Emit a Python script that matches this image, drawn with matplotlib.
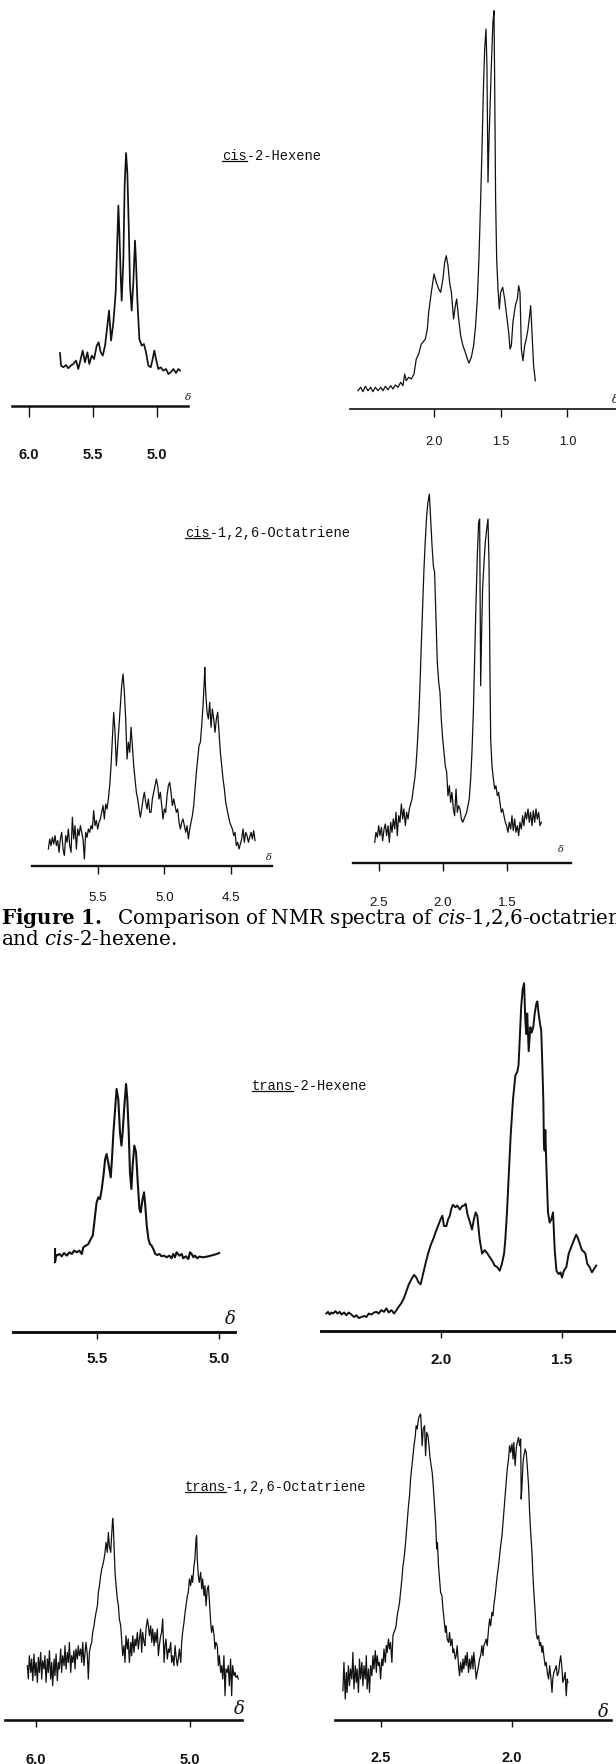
"""
Figure 1 re-drawing: 1H NMR traces of cis/trans 2-hexene and 1,2,6-octatriene.
Each trace is one small axes (x = chemical shift, ppm; y = trace height, arb.).
"""
import matplotlib
matplotlib.use('Agg')
import matplotlib.pyplot as plt
from matplotlib.lines import Line2D

W, H = 616, 1765          # output size, px
INK = '#111111'

plt.rcParams['mathtext.fontset'] = 'custom'
plt.rcParams['mathtext.rm'] = 'DejaVu Serif'
plt.rcParams['mathtext.it'] = 'DejaVu Serif:italic'
plt.rcParams['mathtext.bf'] = 'DejaVu Serif:bold'

# ---------------------------------------------------------------- data
# cis-2-hexene, olefinic region
CIS_HEX_A_PPM = [5.758, 5.750, 5.732, 5.711, 5.693, 5.674, 5.654, 5.633, 5.615, 5.596,
                 5.581, 5.563, 5.544, 5.529, 5.510, 5.492, 5.471, 5.456, 5.440, 5.424,
                 5.406, 5.388, 5.375, 5.359, 5.341, 5.323, 5.310, 5.302, 5.294, 5.284,
                 5.276, 5.263, 5.253, 5.242, 5.232, 5.221, 5.211, 5.198, 5.185, 5.172,
                 5.164, 5.154, 5.138, 5.120, 5.102, 5.086, 5.068, 5.049, 5.034, 5.021,
                 5.008, 4.990, 4.971, 4.951, 4.930, 4.911, 4.893, 4.872, 4.852, 4.833,
                 4.820]
CIS_HEX_A_INT = [53.3, 40.7, 39, 41.3, 38, 40.7, 42.3, 45.7, 37.3, 47.3,
                 55.7, 44, 54, 42.3, 50.7, 47.3, 60.7, 64, 54, 50.7,
                 60.7, 80.7, 95.7, 65.7, 84, 114, 167.3, 200.7, 174, 130.7,
                 105.7, 147.3, 220.7, 253.3, 234, 180.7, 120.7, 95.7, 124, 165.7,
                 144, 107.3, 67.3, 60.7, 62.3, 54, 40.7, 39, 47.3, 55.7,
                 47.3, 37.3, 39, 35.7, 37.3, 32.3, 34, 37.3, 33.3, 37.3,
                 35.7]

# cis-2-hexene, aliphatic region
CIS_HEX_B_PPM = [2.570, 2.550, 2.533, 2.515, 2.495, 2.475, 2.458, 2.440, 2.420, 2.400,
                 2.383, 2.365, 2.345, 2.325, 2.308, 2.290, 2.270, 2.250, 2.233, 2.220,
                 2.208, 2.190, 2.170, 2.150, 2.133, 2.115, 2.095, 2.083, 2.065, 2.050,
                 2.040, 2.020, 2.000, 1.983, 1.965, 1.950, 1.933, 1.920, 1.908, 1.895,
                 1.883, 1.870, 1.853, 1.840, 1.830, 1.815, 1.800, 1.783, 1.765, 1.750,
                 1.738, 1.720, 1.703, 1.688, 1.675, 1.663, 1.650, 1.640, 1.630, 1.620,
                 1.610, 1.603, 1.595, 1.588, 1.580, 1.570, 1.558, 1.550, 1.545, 1.538,
                 1.530, 1.520, 1.510, 1.500, 1.485, 1.470, 1.455, 1.440, 1.430, 1.420,
                 1.408, 1.390, 1.375, 1.365, 1.355, 1.345, 1.333, 1.320, 1.308, 1.295,
                 1.283, 1.275, 1.265, 1.253, 1.240]
CIS_HEX_B_INT = [18.3, 21.7, 17.3, 22.7, 18.3, 21.7, 17.3, 21.7, 18.3, 21.7,
                 18.3, 22.7, 19.3, 23.3, 20, 24, 21.7, 26.7, 23.3, 35,
                 28.3, 31.7, 30, 35, 50, 55, 65, 66.7, 70, 80,
                 96.7, 116.7, 135, 126.7, 120, 116.7, 130, 146.7, 153.3, 143.3,
                 126.7, 116.7, 90, 103.3, 110, 90, 73.3, 63.3, 56.7, 50,
                 46, 51.7, 63.3, 83.3, 110, 150, 210, 260, 316.7, 360,
                 380, 343.3, 226.7, 266.7, 300, 343.3, 386.7, 398.3, 326.7, 210,
                 150, 120, 100, 116.7, 121.7, 110, 93.3, 76.7, 60, 63.3,
                 86.7, 103.3, 110, 123.3, 116.7, 60, 48.3, 63.3, 70, 80,
                 93.3, 103.3, 76.7, 43.3, 28.3]

# cis-1,2,6-octatriene, olefinic region
CIS_OCT_A_PPM = [5.87,
                 5.86, 5.85, 5.84, 5.83, 5.82, 5.81, 5.80, 5.79, 5.78, 5.77,
                 5.76, 5.75, 5.74, 5.73, 5.72, 5.71, 5.70, 5.69, 5.68, 5.67,
                 5.66, 5.65, 5.64, 5.63, 5.62, 5.61, 5.60, 5.59, 5.58, 5.57,
                 5.56, 5.55, 5.54, 5.53, 5.52, 5.51, 5.50, 5.49, 5.48, 5.47,
                 5.46, 5.45, 5.44, 5.43, 5.42, 5.41, 5.40, 5.39, 5.38, 5.37,
                 5.36, 5.35, 5.34, 5.33, 5.32, 5.31, 5.30, 5.29, 5.28, 5.27,
                 5.26, 5.25, 5.24, 5.23, 5.22, 5.21, 5.20, 5.19, 5.18, 5.17,
                 5.16, 5.15, 5.14, 5.13, 5.12, 5.11, 5.10, 5.09, 5.08, 5.07,
                 5.06, 5.05, 5.04, 5.03, 5.02, 5.01, 5.00, 4.99, 4.98, 4.97,
                 4.96, 4.95, 4.94, 4.93, 4.92, 4.91, 4.90, 4.89, 4.88, 4.87,
                 4.86, 4.85, 4.84, 4.83, 4.82, 4.81, 4.80, 4.79, 4.78, 4.77,
                 4.76, 4.75, 4.74, 4.73, 4.72, 4.71, 4.70,
                 4.697, 4.690,
                 4.68, 4.67, 4.66, 4.65, 4.64, 4.63, 4.62, 4.61, 4.60, 4.59,
                 4.58, 4.57, 4.56, 4.55, 4.54, 4.53, 4.52, 4.51, 4.50, 4.49,
                 4.48, 4.47, 4.46, 4.45, 4.44, 4.43, 4.42, 4.41, 4.40, 4.39,
                 4.38, 4.37, 4.36, 4.35, 4.34, 4.33, 4.32]
CIS_OCT_A_INT = [17.3,
                 27.3, 20.7, 29, 22.3, 30.7, 20.7, 25.7, 14, 27.3, 34,
                 17.3, 10.7, 30.7, 24, 37.3, 20.7, 14, 49, 27.3, 40.7,
                 17.3, 37.3, 30.7, 40.7, 34, 27.3, 7.3, 34, 29, 37.3,
                 34, 40.7, 37.3, 55.7, 40.7, 45.7, 37.3, 44, 47.3, 54,
                 60.7, 47.3, 62.3, 57.3, 67.3, 80.7, 100.7, 127.3, 154, 134,
                 100.7, 120.7, 140.7, 160.7, 180.7, 192.3, 174, 147.3, 107.3, 124,
                 114, 139, 120.7, 100.7, 87.3, 74, 67.3, 57.3, 49, 57.3,
                 67.3, 74, 64, 57.3, 67.3, 54, 54, 67.3, 74, 80.7,
                 87.3, 80.7, 67.3, 74, 60.7, 47.3, 57.3, 54, 70.7, 80.7,
                 84, 74, 60.7, 67.3, 60.7, 54, 57.3, 44, 37.3, 44,
                 47.3, 40.7, 34, 40.7, 27.3, 37.3, 44, 50.7, 60.7, 77.3,
                 94, 107.3, 120.7, 124, 140.7, 160.7, 187.3,
                 199, 174,
                 154, 147.3, 164, 139, 157.3, 147.3, 134, 147.3, 154, 134,
                 114, 100.7, 87.3, 77.3, 64, 57.3, 50.7, 44, 40.7, 37.3,
                 30.7, 34, 20.7, 24, 17.3, 22.3, 27.3, 37.3, 24, 34,
                 30.7, 24, 29, 34, 27.3, 35.7, 25.7]

# cis-1,2,6-octatriene, aliphatic region
CIS_OCT_B_PPM = [2.531, 2.521, 2.510, 2.500, 2.490, 2.479, 2.469, 2.458, 2.448, 2.438,
                 2.427, 2.417, 2.406, 2.396, 2.386, 2.375, 2.365, 2.355, 2.344, 2.334,
                 2.323, 2.313, 2.303, 2.292, 2.282, 2.271, 2.261, 2.251, 2.240, 2.230,
                 2.219, 2.209, 2.199, 2.188, 2.178, 2.168, 2.157, 2.147, 2.136, 2.126,
                 2.116, 2.105, 2.095, 2.084, 2.074, 2.064, 2.053, 2.043, 2.032, 2.022,
                 2.012, 2.001, 1.991, 1.981, 1.970, 1.960, 1.949, 1.939, 1.929, 1.918,
                 1.908, 1.897, 1.887, 1.877, 1.866, 1.856, 1.845, 1.835, 1.825, 1.814,
                 1.804, 1.794, 1.783, 1.773, 1.762, 1.752, 1.742, 1.731, 1.721,
                 1.713, 1.705, 1.697, 1.690,
                 1.679, 1.669, 1.658, 1.648,
                 1.640, 1.632, 1.627,
                 1.617, 1.606, 1.596, 1.586, 1.575, 1.565, 1.555, 1.544, 1.534, 1.523,
                 1.513, 1.503, 1.492, 1.482, 1.471, 1.461, 1.451, 1.440, 1.430, 1.419,
                 1.409, 1.399, 1.388, 1.378, 1.368, 1.357, 1.347, 1.336, 1.326, 1.316,
                 1.305, 1.295, 1.284, 1.274, 1.264, 1.253, 1.243, 1.232]
CIS_OCT_B_INT = [20.7, 30.7, 25.7, 37.3, 27.3, 35.7, 22.3, 34, 39, 27.3,
                 37.3, 20.7, 40.7, 30.7, 44, 34, 50.7, 27.3, 47.3, 40.7,
                 59, 44, 54, 37.3, 50.7, 44, 54, 59, 64, 74,
                 84, 97.3, 117.3, 144, 177.3, 217.3, 257.3, 294, 324, 347.3,
                 360.7, 369, 344, 317.3, 297.3, 290.7, 244, 200.7, 180.7, 170.7,
                 144, 124, 110.7, 97.3, 90.7, 67.3, 77.3, 60.7, 70.7, 54,
                 47.3, 74, 50.7, 57.3, 54, 44, 40.7, 44, 47.3, 50.7,
                 57.3, 64, 84, 110.7, 150.7, 204, 257.3, 307.3, 340.7,
                 344, 177.3, 234, 274,
                 300.7, 320.7, 334, 344,
                 300.7, 184, 124,
                 97.3, 84, 74, 77.3, 67.3, 70.7, 60.7, 50.7, 54, 47.3,
                 40.7, 37.3, 30.7, 40.7, 34, 47.3, 32.3, 44, 30.7, 37.3,
                 27.3, 40.7, 34, 47.3, 37.3, 50.7, 44, 54, 40.7, 50.7,
                 37.3, 52.3, 40.7, 54, 44, 50.7, 37.3, 40.7]

# trans-2-hexene, olefinic region
TRANS_HEX_A_PPM = [5.674, 5.674, 5.670, 5.667, 5.656, 5.647, 5.637, 5.626, 5.615, 5.605,
                   5.596, 5.585, 5.574, 5.564, 5.558, 5.547, 5.537, 5.527, 5.519, 5.514,
                   5.508, 5.503, 5.496, 5.489, 5.482, 5.475, 5.468, 5.462, 5.453, 5.445,
                   5.440, 5.434, 5.427, 5.421, 5.414, 5.407, 5.401, 5.396, 5.390, 5.382,
                   5.377, 5.371, 5.366, 5.360, 5.355, 5.348, 5.341, 5.334, 5.327, 5.322,
                   5.314, 5.308, 5.303, 5.297, 5.290, 5.284, 5.277, 5.270, 5.262, 5.253,
                   5.245, 5.236, 5.226, 5.215, 5.204, 5.195, 5.188, 5.181, 5.174, 5.163,
                   5.153, 5.147, 5.136, 5.126, 5.119, 5.112, 5.105, 5.099, 5.089, 5.081,
                   5.064, 5.044, 5.023, 5.010, 4.999]
TRANS_HEX_A_INT = [83.3, 70, 77.3, 76.7, 78.3, 76, 79.3, 76.7, 80, 78.3,
                   81.7, 80, 81.7, 78.3, 85, 86.7, 88.3, 93.3, 96.7, 106.7,
                   120, 130, 135, 133.3, 143.3, 156.7, 173.3, 178.3, 166.7, 155,
                   173.3, 200, 223.3, 243.3, 233.3, 200, 186.7, 200, 223.3, 248.3,
                   233.3, 200, 160, 143.3, 166.7, 186.7, 180, 150, 123.3, 120,
                   133.3, 140, 126.7, 106.7, 93.3, 88.3, 86.7, 83.3, 78.3, 77.3,
                   78.3, 76, 76.7, 75, 76.7, 74, 78.3, 75, 80, 76.7,
                   78.3, 74, 76, 73.3, 80, 78.3, 75, 76.7, 74, 75.7,
                   75, 76, 77.3, 78.3, 79.3]

# trans-2-hexene, aliphatic region
TRANS_HEX_B_PPM = [2.477, 2.470, 2.463, 2.456, 2.449, 2.439, 2.431, 2.421, 2.414, 2.403,
                   2.394, 2.384, 2.373, 2.362, 2.352, 2.343, 2.331, 2.320, 2.311, 2.301,
                   2.290, 2.279, 2.269, 2.260, 2.249, 2.238, 2.228, 2.218, 2.207, 2.196,
                   2.186, 2.177, 2.166, 2.155, 2.145, 2.135, 2.124, 2.113, 2.104, 2.094,
                   2.086, 2.076, 2.066, 2.055, 2.044, 2.035, 2.025, 2.014, 2.003, 1.996,
                   1.989, 1.979, 1.972, 1.965, 1.959, 1.952, 1.942, 1.934, 1.924, 1.914,
                   1.906, 1.899, 1.892, 1.883, 1.873, 1.865, 1.858, 1.851, 1.841, 1.831,
                   1.820, 1.809, 1.800, 1.790, 1.779, 1.768, 1.758, 1.749, 1.740, 1.735,
                   1.728, 1.721, 1.713, 1.703, 1.693, 1.685, 1.680, 1.674, 1.669, 1.663,
                   1.657, 1.652, 1.648, 1.644, 1.638, 1.631, 1.626, 1.619, 1.613, 1.606,
                   1.602, 1.597, 1.591, 1.586, 1.581, 1.577, 1.575, 1.572, 1.569, 1.564,
                   1.558, 1.551, 1.544, 1.537, 1.530, 1.523, 1.514, 1.506, 1.500, 1.492,
                   1.482, 1.472, 1.461, 1.450, 1.441, 1.434, 1.427, 1.417, 1.409, 1.403,
                   1.395, 1.385, 1.376, 1.367, 1.358]
TRANS_HEX_B_INT = [16.7, 18.3, 15.7, 17.7, 16.7, 19, 16.7, 18.3, 15.7, 17.7,
                   15, 17.7, 15.7, 13.3, 15, 12.3, 13.3, 14.3, 13.3, 16.7,
                   15.7, 17.7, 18.3, 16.7, 20, 18.3, 21.7, 17.7, 20, 16.7,
                   20, 23.3, 26.7, 31.7, 38.3, 45, 50, 54.3, 51.7, 46.7,
                   45, 55, 65, 75, 83.3, 88.3, 95, 101.7, 108.3, 111.7,
                   101.7, 101.7, 108.3, 111.7, 118.3, 122.3, 120, 121.7, 117.7, 121,
                   121.7, 123.3, 113.3, 106.7, 98.3, 108.3, 115, 111.7, 88.3, 75,
                   78.3, 75, 71.7, 68.3, 63.3, 61.7, 58.3, 65, 75, 88.3,
                   115, 148.3, 188.3, 225, 248.3, 251.7, 258.3, 288.3, 315, 331.7,
                   337.7, 301.7, 288.3, 308.3, 271.7, 295, 289.7, 295, 308.3, 318.3,
                   320, 308.3, 298.3, 291.7, 255, 221.7, 181.7, 175, 195, 155,
                   115, 105, 108.3, 115, 78.3, 58.3, 55, 56.7, 51.7, 58.3,
                   61.7, 75, 81.7, 88.3, 93.3, 90, 85, 78.3, 76.7, 75,
                   65, 61.7, 56.7, 60, 63.3]

# trans-1,2,6-octatriene, olefinic region
TRANS_OCT_A_PPM = [6.054, 6.048, 6.041, 6.032, 6.026, 6.019, 6.011, 6.004, 5.998, 5.989,
                   5.983, 5.976, 5.968, 5.961, 5.955, 5.946, 5.940, 5.933, 5.924, 5.918,
                   5.911, 5.903, 5.896, 5.890, 5.881, 5.875, 5.868, 5.860, 5.853, 5.847,
                   5.838, 5.832, 5.825, 5.816, 5.810, 5.803, 5.795, 5.788, 5.782, 5.773,
                   5.767, 5.760, 5.752, 5.745, 5.739, 5.730, 5.724, 5.717, 5.708, 5.702,
                   5.695, 5.687, 5.680, 5.674, 5.665, 5.659, 5.652, 5.644, 5.637, 5.631,
                   5.622, 5.616, 5.609, 5.600, 5.594, 5.587, 5.579, 5.572, 5.566, 5.557,
                   5.551, 5.544, 5.536, 5.529, 5.523, 5.514, 5.508, 5.501, 5.497, 5.492,
                   5.486, 5.479, 5.471, 5.464, 5.458, 5.449, 5.443, 5.436, 5.428, 5.421,
                   5.415, 5.406, 5.400, 5.393, 5.384, 5.378, 5.371, 5.363, 5.356, 5.350,
                   5.341, 5.335, 5.328, 5.320, 5.313, 5.307, 5.298, 5.292, 5.285, 5.276,
                   5.270, 5.263, 5.255, 5.248, 5.242, 5.233, 5.227, 5.220, 5.212, 5.205,
                   5.199, 5.190, 5.184, 5.177, 5.168, 5.162, 5.156, 5.147, 5.140, 5.134,
                   5.125, 5.119, 5.112, 5.104, 5.097, 5.091, 5.082, 5.076, 5.069, 5.060,
                   5.054, 5.048, 5.039, 5.032, 5.026, 5.017, 5.011, 5.004, 4.996, 4.989,
                   4.983, 4.974, 4.968, 4.961, 4.957, 4.953, 4.946, 4.940, 4.931, 4.924,
                   4.918, 4.909, 4.903, 4.896, 4.888, 4.881, 4.875, 4.866, 4.860, 4.853,
                   4.844, 4.838, 4.832, 4.823, 4.816, 4.810, 4.801, 4.795, 4.788, 4.780,
                   4.773, 4.767, 4.758, 4.752, 4.745, 4.737, 4.730, 4.724, 4.715, 4.708,
                   4.702, 4.693, 4.687]
TRANS_OCT_A_INT = [54, 40.7, 64, 47.3, 60.7, 39, 65.7, 44, 57.3, 37.3,
                   62.3, 47.3, 67.3, 40.7, 59, 50.7, 64, 37.3, 60.7, 47.3,
                   69, 40.7, 57.3, 34, 60.7, 44, 65.7, 39, 57.3, 50.7,
                   70.7, 47.3, 64, 54, 74, 50.7, 67.3, 57.3, 77.3, 47.3,
                   64, 57.3, 69, 50.7, 70.7, 60.7, 74, 64, 70.7, 57.3,
                   77.3, 54, 67.3, 77.3, 64, 40.7, 67.3, 74, 77.3, 87.3,
                   94, 100.7, 107.3, 114, 127.3, 134, 144, 150.7, 154, 160.7,
                   167.3, 177.3, 167.3, 187.3, 174, 167.3, 184, 201.3, 194, 174,
                   147.3, 134, 120.7, 114, 100.7, 94, 80.7, 64, 74, 57.3,
                   84, 70.7, 80.7, 57.3, 77.3, 64, 84, 67.3, 80.7, 74,
                   87.3, 70.7, 80.7, 90.7, 67.3, 87.3, 77.3, 74, 90.7, 100.7,
                   94, 84, 94, 77.3, 90.7, 74, 87.3, 77.3, 90.7, 64,
                   74, 84, 87.3, 100.7, 57.3, 74, 80.7, 60.7, 70.7, 67.3,
                   77.3, 57.3, 64, 54, 74, 64, 54, 60.7, 70.7, 57.3,
                   77.3, 87.3, 97.3, 107.3, 114, 124, 127.3, 140.7, 134, 144,
                   137.3, 154, 160.7, 180.7, 184, 160.7, 144, 137.3, 147.3, 130.7,
                   140.7, 124, 134, 114, 130.7, 134, 120.7, 97.3, 87.3, 94,
                   84, 70.7, 77.3, 74, 54, 64, 47.3, 54, 40.7, 64,
                   24, 50.7, 47.3, 54, 34, 60.7, 24, 54, 44, 47.3,
                   42.3, 44, 40.7]

# trans-1,2,6-octatriene, aliphatic region
TRANS_OCT_B_PPM = [2.643, 2.639, 2.634, 2.630, 2.627, 2.622, 2.618, 2.614, 2.609, 2.605,
                   2.601, 2.596, 2.592, 2.589, 2.584, 2.580, 2.576, 2.571, 2.567, 2.563,
                   2.558, 2.554, 2.551, 2.546, 2.542, 2.538, 2.533, 2.529, 2.525, 2.520,
                   2.516, 2.513, 2.508, 2.504, 2.500, 2.495, 2.491, 2.487, 2.482, 2.478,
                   2.475, 2.470, 2.466, 2.462, 2.457, 2.453, 2.449, 2.444, 2.441, 2.437,
                   2.432, 2.428, 2.424, 2.419, 2.415, 2.411, 2.406, 2.403, 2.399, 2.394,
                   2.390, 2.386, 2.381, 2.377, 2.373, 2.368, 2.365, 2.361, 2.356, 2.352,
                   2.348, 2.346, 2.342, 2.338, 2.333, 2.329, 2.325, 2.320, 2.316, 2.313,
                   2.308, 2.304, 2.300, 2.295, 2.291, 2.287, 2.284, 2.280, 2.276, 2.272,
                   2.267, 2.263, 2.259, 2.254, 2.251, 2.247, 2.242, 2.238, 2.234, 2.229,
                   2.225, 2.222, 2.216, 2.213, 2.209, 2.204, 2.200, 2.196, 2.191, 2.187,
                   2.184, 2.178, 2.175, 2.171, 2.166, 2.162, 2.158, 2.153, 2.149, 2.146,
                   2.141, 2.137, 2.133, 2.128, 2.124, 2.120, 2.115, 2.111, 2.108, 2.103,
                   2.099, 2.095, 2.090, 2.086, 2.082, 2.077, 2.073, 2.070, 2.065, 2.061,
                   2.057, 2.052, 2.048, 2.044, 2.039, 2.035, 2.032, 2.027, 2.023, 2.019,
                   2.014, 2.010, 2.006, 2.001, 1.997, 1.994, 1.989, 1.985, 1.981, 1.976,
                   1.972, 1.968, 1.966, 1.963, 1.959, 1.956, 1.951, 1.947, 1.943, 1.938,
                   1.934, 1.930, 1.925, 1.922, 1.918, 1.913, 1.909, 1.905, 1.900, 1.896,
                   1.892, 1.887, 1.884, 1.880, 1.875, 1.871, 1.867, 1.862, 1.858, 1.854,
                   1.849, 1.846, 1.842, 1.837, 1.833, 1.829, 1.824, 1.820, 1.816, 1.811,
                   1.808, 1.804, 1.799, 1.795, 1.791, 1.789]
TRANS_OCT_B_INT = [29, 57.3, 20.7, 47.3, 27.3, 54, 34, 50.7, 40.7, 67.3,
                   30.7, 54, 37.3, 50.7, 27.3, 60.7, 40.7, 57.3, 34, 54,
                   40.7, 64, 30.7, 50.7, 27.3, 54, 44, 64, 50.7, 69,
                   47.3, 64, 54, 57.3, 40.7, 60.7, 54, 70.7, 57.3, 74,
                   67.3, 80.7, 70.7, 77.3, 57.3, 84, 87.3, 90.7, 94, 104,
                   110.7, 117.3, 127.3, 140.7, 154, 160.7, 174, 184, 197.3, 214,
                   224, 240.7, 254, 264, 274, 284, 294, 290.7, 300.7, 304,
                   305.7, 297.3, 274, 290.7, 294, 264, 287.3, 284, 274, 264,
                   254, 247.3, 234, 214, 197.3, 170.7, 177.3, 154, 140.7, 127.3,
                   124, 110.7, 100.7, 87.3, 94, 80.7, 77.3, 87.3, 74, 80.7,
                   67.3, 70.7, 60.7, 64, 74, 54, 44, 57.3, 47.3, 60.7,
                   50.7, 64, 54, 67.3, 47.3, 60.7, 50.7, 64, 50.7, 67.3,
                   54, 40.7, 47.3, 54, 60.7, 64, 74, 64, 74, 77.3,
                   80.7, 74, 90.7, 100.7, 94, 107.3, 104, 114, 124, 134,
                   144, 154, 164, 174, 184, 197.3, 207.3, 224, 237.3, 250.7,
                   260.7, 274, 267.3, 275.7, 260.7, 277.3, 254, 270.7, 277.3, 282.3,
                   274, 280.7, 220.7, 234, 257.3, 264, 270.7, 267.3, 254, 234,
                   207.3, 187.3, 167.3, 147.3, 127.3, 107.3, 87.3, 80.7, 84, 74,
                   77.3, 67.3, 74, 64, 54, 57.3, 47.3, 40.7, 54, 44,
                   27.3, 40.7, 47.3, 50.7, 54, 44, 47.3, 57.3, 64, 50.7,
                   37.3, 40.7, 47.3, 24, 40.7, 37.3]

# ---------------------------------------------------------------- layout
# box = (left px, right px, axis-line y px, axes height px), ytop = y-limit
PANELS = [
    dict(ppm=CIS_HEX_A_PPM, y=CIS_HEX_A_INT, box=(12, 188, 407.3, 300), ytop=300,
         xlim=(6.133, 4.758), ticks=[6.0, 5.5, 5.0], tick_len=11,
         lab_dy=47.7, lab_fs=10.5, lab_bold=True, lw=1.25, axis_lw=1.8,
         delta=(188.5, 397.5, 7.5)),
    dict(ppm=CIS_HEX_B_PPM, y=CIS_HEX_B_INT, box=(350, 616, 410, 405), ytop=405,
         xlim=(2.63, 0.635), ticks=[2.0, 1.5, 1.0], tick_len=8,
         lab_dy=31.7, lab_fs=9.0, lab_bold=False, lw=0.9, axis_lw=1.2,
         delta=(615, 400, 8)),
    dict(ppm=CIS_OCT_A_PPM, y=CIS_OCT_A_INT, box=(31.7, 271.7, 867.3, 250), ytop=250,
         xlim=(5.995, 4.195), ticks=[5.5, 5.0, 4.5], tick_len=8,
         lab_dy=31, lab_fs=9.6, lab_bold=False, lw=0.9, axis_lw=1.7,
         delta=(268.7, 857.5, 7)),
    dict(ppm=CIS_OCT_B_PPM, y=CIS_OCT_B_INT, box=(353, 571, 864, 380), ytop=380,
         xlim=(2.700, 1.001), ticks=[2.5, 2.0, 1.5], tick_len=8,
         lab_dy=38.7, lab_fs=9.6, lab_bold=False, lw=0.9, axis_lw=1.7,
         delta=(561.3, 850, 7)),
    dict(ppm=TRANS_HEX_A_PPM, y=TRANS_HEX_A_INT, box=(13, 235, 1333.3, 300), ytop=300,
         xlim=(5.847, 4.934), ticks=[5.5, 5.0], tick_len=7,
         lab_dy=26, lab_fs=11, lab_bold=True, lw=1.5, axis_lw=2.1,
         delta=(230.8, 1319, 13)),
    dict(ppm=TRANS_HEX_B_PPM, y=TRANS_HEX_B_INT, box=(321, 616, 1331.7, 355), ytop=345,
         xlim=(2.499, 1.276), ticks=[2.0, 1.5], tick_len=7,
         lab_dy=28.3, lab_fs=11, lab_bold=True, lw=1.4, axis_lw=2.1,
         delta=(621, 1318, 13)),
    dict(ppm=TRANS_OCT_A_PPM, y=TRANS_OCT_A_INT, box=(5, 242, 1720.7, 250), ytop=250,
         xlim=(6.199, 4.663), ticks=[6.0, 5.0], tick_len=7,
         lab_dy=39.3, lab_fs=10.5, lab_bold=True, lw=0.9, axis_lw=1.9,
         delta=(239, 1709, 13)),
    dict(ppm=TRANS_OCT_B_PPM, y=TRANS_OCT_B_INT, box=(335, 611, 1720.7, 320), ytop=320,
         xlim=(2.673, 1.625), ticks=[2.5, 2.0], tick_len=7,
         lab_dy=37.6, lab_fs=10.5, lab_bold=True, lw=0.9, axis_lw=1.9,
         delta=(603, 1712.5, 13)),
]

# (text, chars underlined, left px, baseline px)
TITLES = [
    ('cis-2-Hexene', 3, 222, 160),
    ('cis-1,2,6-Octatriene', 3, 185, 536.5),
    ('trans-2-Hexene', 5, 252, 1090),
    ('trans-1,2,6-Octatriene', 5, 185, 1491),
]
TITLE_FS = 9.9                      # pt; Liberation Mono advance = 0.6 em
CHAR_W = 0.6 * TITLE_FS / 72 * 100  # px

# the first caption line runs past the right edge, as in the printed page
CAPTION = [
    (r'$\mathbf{Figure\ 1.}$  Comparison of NMR spectra of $\mathit{cis}$-1,2,6-octatriene', 924),
    (r'and $\mathit{cis}$-2-hexene.', 945),
]
CAPTION_FS = 14.3

LABEL_FONT = ['Liberation Sans Narrow', 'Liberation Sans', 'DejaVu Sans']


def fx(px):
    return px / W


def fy(py):
    return 1 - py / H


fig = plt.figure(figsize=(W / 100, H / 100), dpi=100)
fig.patch.set_facecolor('white')

for p in PANELS:
    x0, x1, ya, hpx = p['box']
    ax = fig.add_axes([x0 / W, (H - ya) / H, (x1 - x0) / W, hpx / H])
    ax.patch.set_alpha(0)
    ax.plot(p['ppm'], p['y'], color=INK, lw=p['lw'], solid_joinstyle='round', clip_on=False)
    ax.set_xlim(*p['xlim'])
    ax.set_ylim(0, p['ytop'])
    for s in ('top', 'left', 'right'):
        ax.spines[s].set_visible(False)
    ax.spines['bottom'].set_linewidth(p['axis_lw'])
    ax.spines['bottom'].set_color(INK)
    ax.set_yticks([])
    ax.set_xticks(p['ticks'])
    ax.tick_params(axis='x', direction='out', length=p['tick_len'] * 0.72, width=1.0,
                   color=INK, labelbottom=False)
    for t in p['ticks']:
        ax.text(t, -p['lab_dy'] / hpx, f'{t:.1f}', transform=ax.get_xaxis_transform(),
                ha='center', va='center', fontsize=p['lab_fs'], family=LABEL_FONT,
                fontweight='bold' if p['lab_bold'] else 'normal', color=INK)
    dx, dy, dfs = p['delta']
    fig.text(fx(dx), fy(dy), 'δ', ha='center', va='center', fontsize=dfs,
             family='DejaVu Serif', style='italic', color=INK)

for txt, n_ul, x, yb in TITLES:
    fig.text(fx(x), fy(yb), txt, ha='left', va='baseline', fontsize=TITLE_FS,
             family='Liberation Mono', color=INK)
    fig.add_artist(Line2D([fx(x), fx(x + n_ul * CHAR_W)], [fy(yb + 2.2)] * 2,
                          transform=fig.transFigure, color=INK, lw=0.9))

for txt, yb in CAPTION:
    fig.text(fx(1), fy(yb), txt, ha='left', va='baseline', fontsize=CAPTION_FS,
             family='DejaVu Serif', color='black')

fig.savefig('out.png', dpi=100, facecolor='white')
